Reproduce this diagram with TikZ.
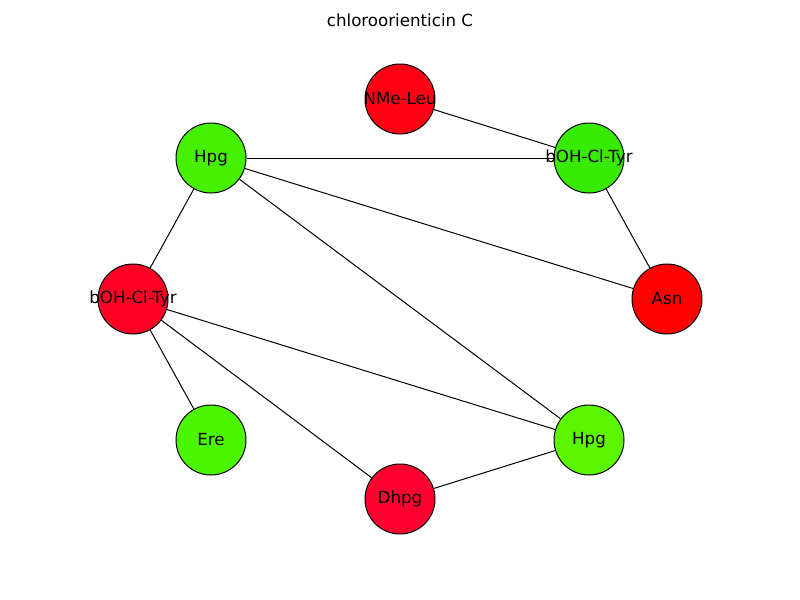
\documentclass[tikz,border=0pt]{standalone}
\usepackage{fontspec}
\setmainfont{DejaVu Sans}
\usetikzlibrary{backgrounds}
\definecolor{cA}{HTML}{FF0015}
\definecolor{cB}{HTML}{36EB00}
\definecolor{cC}{HTML}{46F000}
\definecolor{cD}{HTML}{FF0025}
\definecolor{cE}{HTML}{FF0000}
\definecolor{cF}{HTML}{4CF500}
\definecolor{cG}{HTML}{5CF500}
\definecolor{cH}{HTML}{FF0030}
\begin{document}
\begin{tikzpicture}[x=0.75pt,y=-0.75pt,
  lbl/.style={font=\fontsize{12.5}{14}\selectfont,inner sep=0pt},
  res/.style={circle,draw=black,line width=0.75pt,minimum size=52.5pt,inner sep=0pt,
    label={[lbl]center:#1}},
  link/.style={draw=black,line width=0.75pt}]
\useasboundingbox (0,0) rectangle (800,600);
\node[lbl] (title) at (400,20) {chloroorienticin C};
\node[res={NMe-Leu},fill=cA] (nmeleu) at (400,99) {};
\node[res={bOH-Cl-Tyr},fill=cB] (tyr1) at (589,158) {};
\node[res={Hpg},fill=cC] (hpg1) at (211,158) {};
\node[res={bOH-Cl-Tyr},fill=cD] (tyr2) at (133,299) {};
\node[res={Asn},fill=cE] (asn) at (667,299) {};
\node[res={Ere},fill=cF] (ere) at (211,440) {};
\node[res={Hpg},fill=cG] (hpg2) at (589,440) {};
\node[res={Dhpg},fill=cH] (dhpg) at (400,499) {};
\begin{scope}[on background layer]
\path[link] (nmeleu) -- (tyr1);
\path[link] (hpg1) -- (tyr1);
\path[link] (tyr1) -- (asn);
\path[link] (hpg1) -- (asn);
\path[link] (hpg1) -- (hpg2);
\path[link] (hpg1) -- (tyr2);
\path[link] (tyr2) -- (hpg2);
\path[link] (tyr2) -- (ere);
\path[link] (tyr2) -- (dhpg);
\path[link] (dhpg) -- (hpg2);
\end{scope}
\end{tikzpicture}
\end{document}
